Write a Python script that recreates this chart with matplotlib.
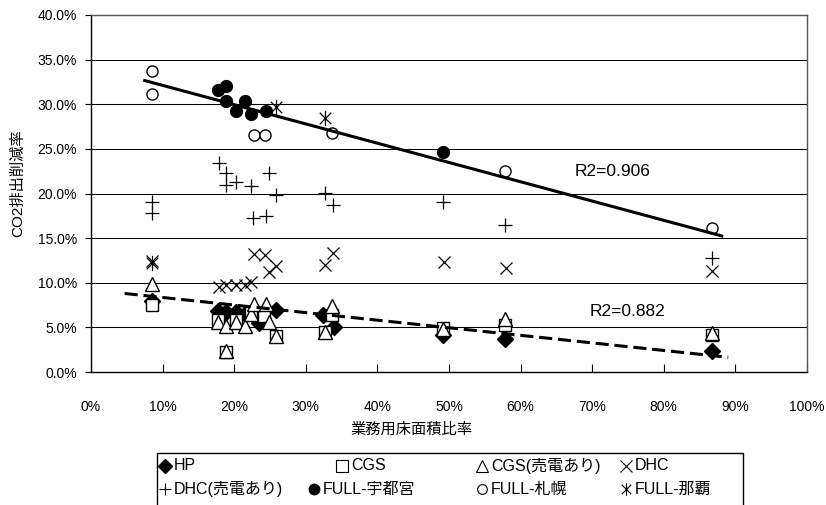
import matplotlib
matplotlib.use("Agg")
import matplotlib.pyplot as plt
from matplotlib.lines import Line2D
from matplotlib.patches import Rectangle
from matplotlib.path import Path
from matplotlib.ticker import FuncFormatter, MultipleLocator

plt.rcParams['font.family'] = ['Liberation Sans', 'Noto Sans CJK JP', 'DejaVu Sans']

# ---- data (x: 業務用床面積比率 %, y: CO2排出削減率 %) ----
hp_x = [8.5, 17.8, 18.9, 20.3, 21.5, 23.4, 25.9, 32.4, 33.9, 49.2, 57.8, 86.7]
hp_y = [7.9, 6.8, 6.7, 6.7, 6.5, 5.5, 7.0, 6.4, 5.0, 4.1, 3.7, 2.4]

cgs_x = [8.5, 17.8, 18.9, 20.3, 22.4, 24.1, 25.9, 32.7, 33.7, 49.2, 57.8, 86.7]
cgs_y = [7.5, 5.8, 2.2, 5.8, 6.6, 6.3, 4.0, 4.5, 6.4, 4.9, 5.3, 4.1]

cgs_sell_x = [8.5, 17.8, 18.9, 18.9, 20.3, 21.5, 22.4, 22.7, 24.4, 24.8, 25.9, 32.7, 33.7, 49.2, 57.8, 86.7]
cgs_sell_y = [9.9, 5.6, 5.1, 2.3, 5.6, 5.1, 6.5, 7.6, 7.6, 5.6, 4.0, 4.5, 7.4, 4.8, 5.9, 4.4]

dhc_x = [8.5, 17.9, 18.9, 20.3, 21.5, 22.4, 22.7, 24.3, 24.9, 25.9, 32.7, 33.8, 49.3, 58.0, 86.8]
dhc_y = [12.4, 9.5, 9.7, 9.7, 9.7, 10.1, 13.2, 13.1, 11.2, 11.9, 12.0, 13.3, 12.3, 11.7, 11.3]

dhc_sell_x = [8.5, 8.5, 17.9, 18.8, 18.8, 20.3, 22.4, 22.6, 24.4, 24.9, 25.9, 32.7, 33.8, 49.2, 57.8, 86.8]
dhc_sell_y = [19.0, 17.8, 23.4, 22.3, 21.0, 21.3, 20.8, 17.3, 17.5, 22.3, 19.8, 20.1, 18.7, 19.0, 16.5, 12.8]

utsunomiya_x = [17.8, 18.8, 18.9, 20.3, 21.5, 22.3, 24.5, 49.2]
utsunomiya_y = [31.6, 32.0, 30.4, 29.2, 30.4, 28.9, 29.2, 24.7]

sapporo_x = [8.5, 8.5, 22.7, 24.3, 33.6, 57.8, 86.7]
sapporo_y = [33.7, 31.1, 26.6, 26.6, 26.8, 22.5, 16.1]

naha_x = [8.5, 25.9, 32.7]
naha_y = [12.2, 29.7, 28.5]

full_trend_x = [7.3, 88.3]
full_trend_y = [32.7, 15.2]
low_trend_x = [4.7, 89.0]
low_trend_y = [8.8, 1.65]

r2_full = "R2=0.906"
r2_low = "R2=0.882"

x_label = "業務用床面積比率"
y_label = "CO2排出削減率"

legend_labels = ["HP", "CGS", "CGS(売電あり)", "DHC",
                 "DHC(売電あり)", "FULL-宇都宮", "FULL-札幌", "FULL-那覇"]

# ---- figure ----
W, H = 826, 505
fig = plt.figure(figsize=(W / 100, H / 100), dpi=100)
ax = fig.add_axes([91 / W, 1 - 372 / H, (807 - 91) / W, (372 - 15) / H])

star_path = Path([(-0.75, -0.75), (0.75, 0.75), (-0.75, 0.75), (0.75, -0.75), (0, -1), (0, 1)],
                 [Path.MOVETO, Path.LINETO, Path.MOVETO, Path.LINETO, Path.MOVETO, Path.LINETO])

styles = [
    dict(marker='D', ms=8, mfc='black', mec='black'),
    dict(marker='s', ms=9, mfc='white', mec='black', mew=1.0),
    dict(marker='^', ms=10, mfc='white', mec='black', mew=1.0),
    dict(marker='x', ms=9, mec='black', mew=0.9),
    dict(marker='+', ms=10, mec='black', mew=0.9),
    dict(marker='o', ms=8.5, mfc='black', mec='black'),
    dict(marker='o', ms=8, mfc='white', mec='black', mew=1.0),
    dict(marker=star_path, ms=11, mec='black', mew=0.9),
]
series = [(hp_x, hp_y), (cgs_x, cgs_y), (cgs_sell_x, cgs_sell_y), (dhc_x, dhc_y),
          (dhc_sell_x, dhc_sell_y), (utsunomiya_x, utsunomiya_y),
          (sapporo_x, sapporo_y), (naha_x, naha_y)]
for i, ((xs, ys), st) in enumerate(zip(series, styles)):
    ax.plot(xs, ys, linestyle='none', zorder=3 + i * 0.1, clip_on=False, **st)

ax.plot(full_trend_x, full_trend_y, color='black', lw=2.2, zorder=5, solid_capstyle='butt')
ax.plot(low_trend_x, low_trend_y, color='black', lw=2.2, zorder=5,
        linestyle=(0, (4.3, 1.9)))

ax.text(67.6, 22.45, r2_full, fontsize=12.5, va='center', ha='left')
ax.text(69.7, 6.76, r2_low, fontsize=12.5, va='center', ha='left')

ax.set_xlim(0, 100)
ax.set_ylim(0, 40)
ax.xaxis.set_major_locator(MultipleLocator(10))
ax.yaxis.set_major_locator(MultipleLocator(5))
ax.xaxis.set_major_formatter(FuncFormatter(lambda v, p: f"{v:.0f}%"))
ax.yaxis.set_major_formatter(FuncFormatter(lambda v, p: f"{v:.1f}%"))
ax.tick_params(axis='x', direction='in', length=6, width=0.8, pad=20, labelsize=10)
ax.tick_params(axis='y', direction='out', length=4, width=0.8, pad=6, labelsize=10)
ax.grid(axis='y', color='black', lw=0.75)
ax.set_axisbelow(True)
for s in ax.spines.values():
    s.set_linewidth(1.0)
    s.set_color('black')
ax.spines['top'].set_color('#555555')
ax.spines['right'].set_color('#555555')

fig.text(411 / W, 1 - 430 / H, x_label, fontsize=11, ha='center', va='center')
fig.text(18 / W, 1 - 183 / H, y_label, fontsize=11, ha='center', va='center', rotation=90)

# ---- legend box (manual, row-wise like the original) ----
fig.add_artist(Rectangle((157 / W, -0.05), (743 - 157) / W, 0.05 + 1 - 453 / H,
                         transform=fig.transFigure, fill=False, ec='black', lw=1.0))
leg_pos = [(165, 466), (342, 466), (482, 466), (626, 466),
           (165, 489), (314, 489), (482, 489), (626, 489)]
leg_styles = [
    dict(marker='D', ms=7, mfc='black', mec='black'),
    dict(marker='s', ms=8, mfc='white', mec='black', mew=0.8),
    dict(marker='^', ms=9, mfc='white', mec='black', mew=0.8),
    dict(marker='x', ms=8, mec='black', mew=0.8),
    dict(marker='+', ms=9, mec='black', mew=0.8),
    dict(marker='o', ms=7.5, mfc='black', mec='black'),
    dict(marker='o', ms=7, mfc='white', mec='black', mew=0.8),
    dict(marker=star_path, ms=9, mec='black', mew=0.8),
]
for (px, py), st, lab in zip(leg_pos, leg_styles, legend_labels):
    fig.add_artist(Line2D([px / W], [1 - py / H], transform=fig.transFigure,
                          linestyle='none', **st))
    fig.text((px + 9) / W, 1 - py / H, lab, fontsize=11.5, ha='left', va='center')

fig.savefig("out.png", dpi=100)
